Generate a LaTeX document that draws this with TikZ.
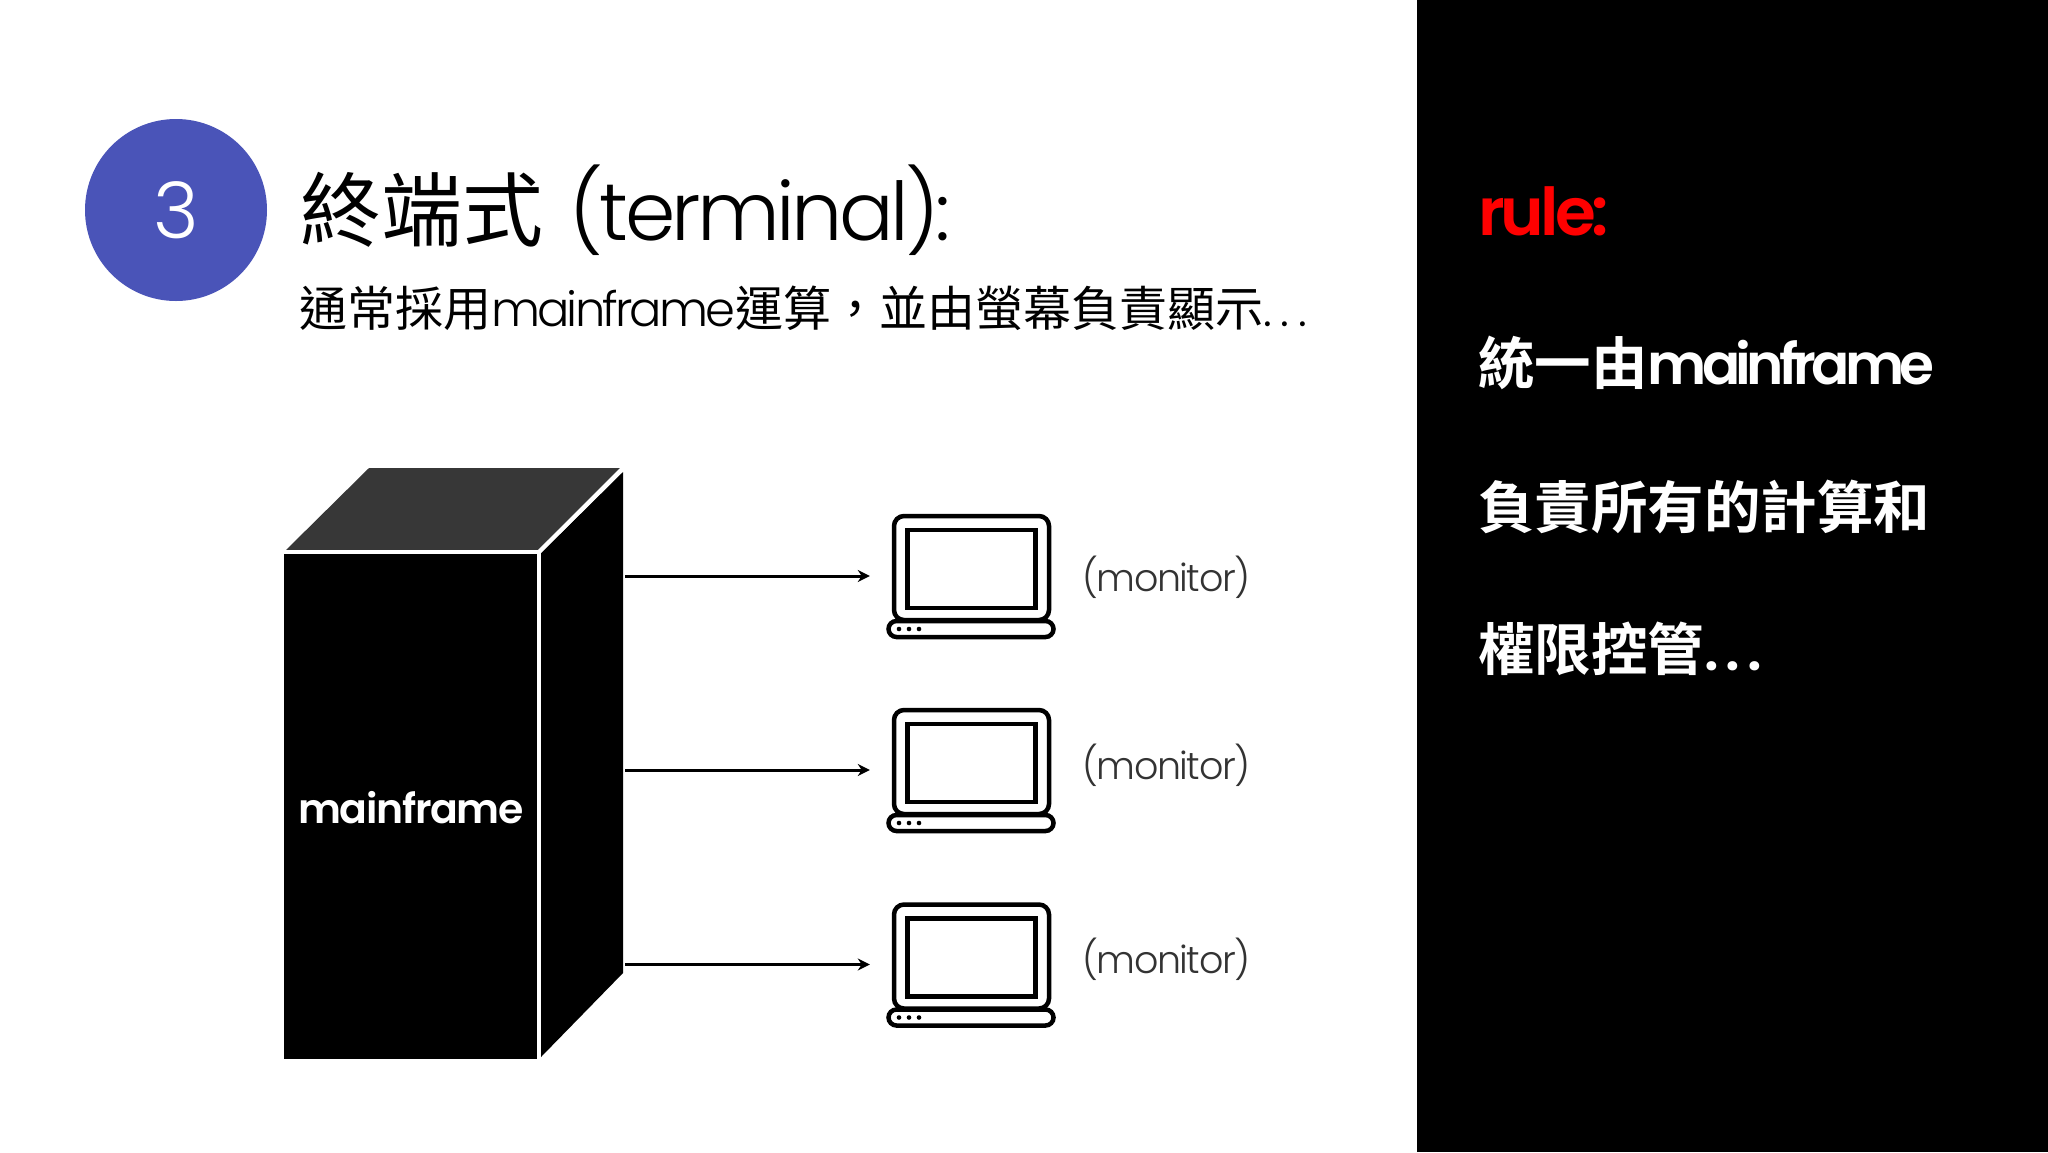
\documentclass[tikz,border=0pt]{standalone}
\usepackage{fontspec}
\setmainfont{Poppins Light}
\newfontfamily\titlelatin[LetterSpace=-4.5]{Poppins Light}
\newfontfamily\sublatin[LetterSpace=-6]{Poppins Light}
\newfontfamily\monlatin[LetterSpace=-3.8]{Poppins Light}
\newfontfamily\boldlatin[LetterSpace=-3.2]{Poppins SemiBold}
\newfontfamily\boldtight[LetterSpace=-8.5]{Poppins SemiBold}
\newfontfamily\ruletight[LetterSpace=-6]{Poppins SemiBold}
\newfontfamily\cjk{Noto Sans CJK TC}
\newfontfamily\cjkbold{Noto Sans CJK TC Bold}
\usepackage{xcolor}
\usetikzlibrary{positioning,calc,arrows.meta}
\definecolor{badgeblue}{HTML}{4A54B8}
\definecolor{topgray}{HTML}{373737}
\newcommand{\fs}[1]{\fontsize{#1}{#1}\selectfont}
\newcommand{\wdots}[1]{.\hspace{#1}.\hspace{#1}.}
\tikzset{
  txt/.style={inner sep=0pt,anchor=west},
  feed/.style={-{Stealth[length=12pt,width=12pt]},line width=3pt,shorten >=16pt},
  moninfo/.style={txt,text=black!80},
  pics/laptop/.style={code={
    \node[minimum width=169pt,minimum height=125pt,inner sep=0pt] (-box) at (0,0) {};
    \draw[line width=4.5pt,rounded corners=10pt] (-76.5,-60) rectangle (78.5,44);
    \draw[line width=4.5pt] (-63,-46) rectangle (65,32);
    \draw[line width=4.5pt,fill=white,rounded corners=8pt] (-82,45) rectangle (83,61);
    \fill (-71.5,53) circle (2.3pt);
    \fill (-61.5,53) circle (2.3pt);
    \fill (-51.5,53) circle (2.3pt);
  }}
}
\begin{document}
\begin{tikzpicture}[x=1pt,y=-1pt]
\useasboundingbox (0,0) rectangle (2048,1152);
\fill[white] (0,0) rectangle (2048,1152);
\fill[black] (1417,0) rectangle (2048,1152);
% header
\node[circle,fill=badgeblue,minimum size=182pt,inner sep=0pt,text=white,font=\fs{78}] (badge) at (176,210) {3};
\node[txt,font=\fs{81}] (title) at (300,210) {{\cjk 終端式} \hspace{4pt}{\titlelatin (terminal):}};
\node[txt,font=\fs{48}] (sub) at (299,308) {{\cjk 通常採用}{\sublatin mainframe}{\cjk 運算，並由螢幕負責顯示}\wdots{9pt}};
% mainframe
\fill[topgray] (369,468) -- (622,468) -- (538,550) -- (286,550) -- cycle;
\fill[black] (623,472) -- (623,973) -- (541,1057) -- (541,553) -- cycle;
\draw[white,line width=4pt] (539,552) -- (624,467);
\node[fill=black,draw=white,line width=4pt,outer sep=0pt,minimum width=257pt,minimum height=509pt,inner sep=0pt,anchor=north west] (mainframe) at (282,552) {};
\node[text=white,font=\boldlatin\fs{41}] (mflabel) at (411,808) {mainframe};
\coordinate (out1) at (625,576);
\coordinate (out2) at (625,770);
\coordinate (out3) at (625,964.5);
% monitors
\pic (lap1) at (970.5,576) {laptop};
\pic (lap2) at (970.5,770) {laptop};
\pic (lap3) at (970.5,964.5) {laptop};
\draw[feed] (out1) -- (lap1-box);
\draw[feed] (out2) -- (lap2-box);
\draw[feed] (out3) -- (lap3-box);
\node[moninfo,font=\monlatin\fs{38}] (mon1) at (1082,577) {(monitor)};
\node[moninfo,font=\monlatin\fs{38}] (mon2) at (1082,765) {(monitor)};
\node[moninfo,font=\monlatin\fs{38}] (mon3) at (1082,959) {(monitor)};
% rule panel
\node[txt,text=red,font=\ruletight\fs{66}] (rule) at (1478,211) {rule:};
\node[txt,text=white,font=\fs{56.5}] (line1) at (1478,363) {{\cjkbold 統一由}{\boldtight mainframe}};
\node[txt,text=white,font=\fs{56.5}] (line2) at (1478,507) {{\cjkbold 負責所有的計算和}};
\node[txt,text=white,font=\fs{56.5}] (line3) at (1478,649) {{\cjkbold 權限控管}{\boldlatin\wdots{7pt}}};
\end{tikzpicture}
\end{document}
